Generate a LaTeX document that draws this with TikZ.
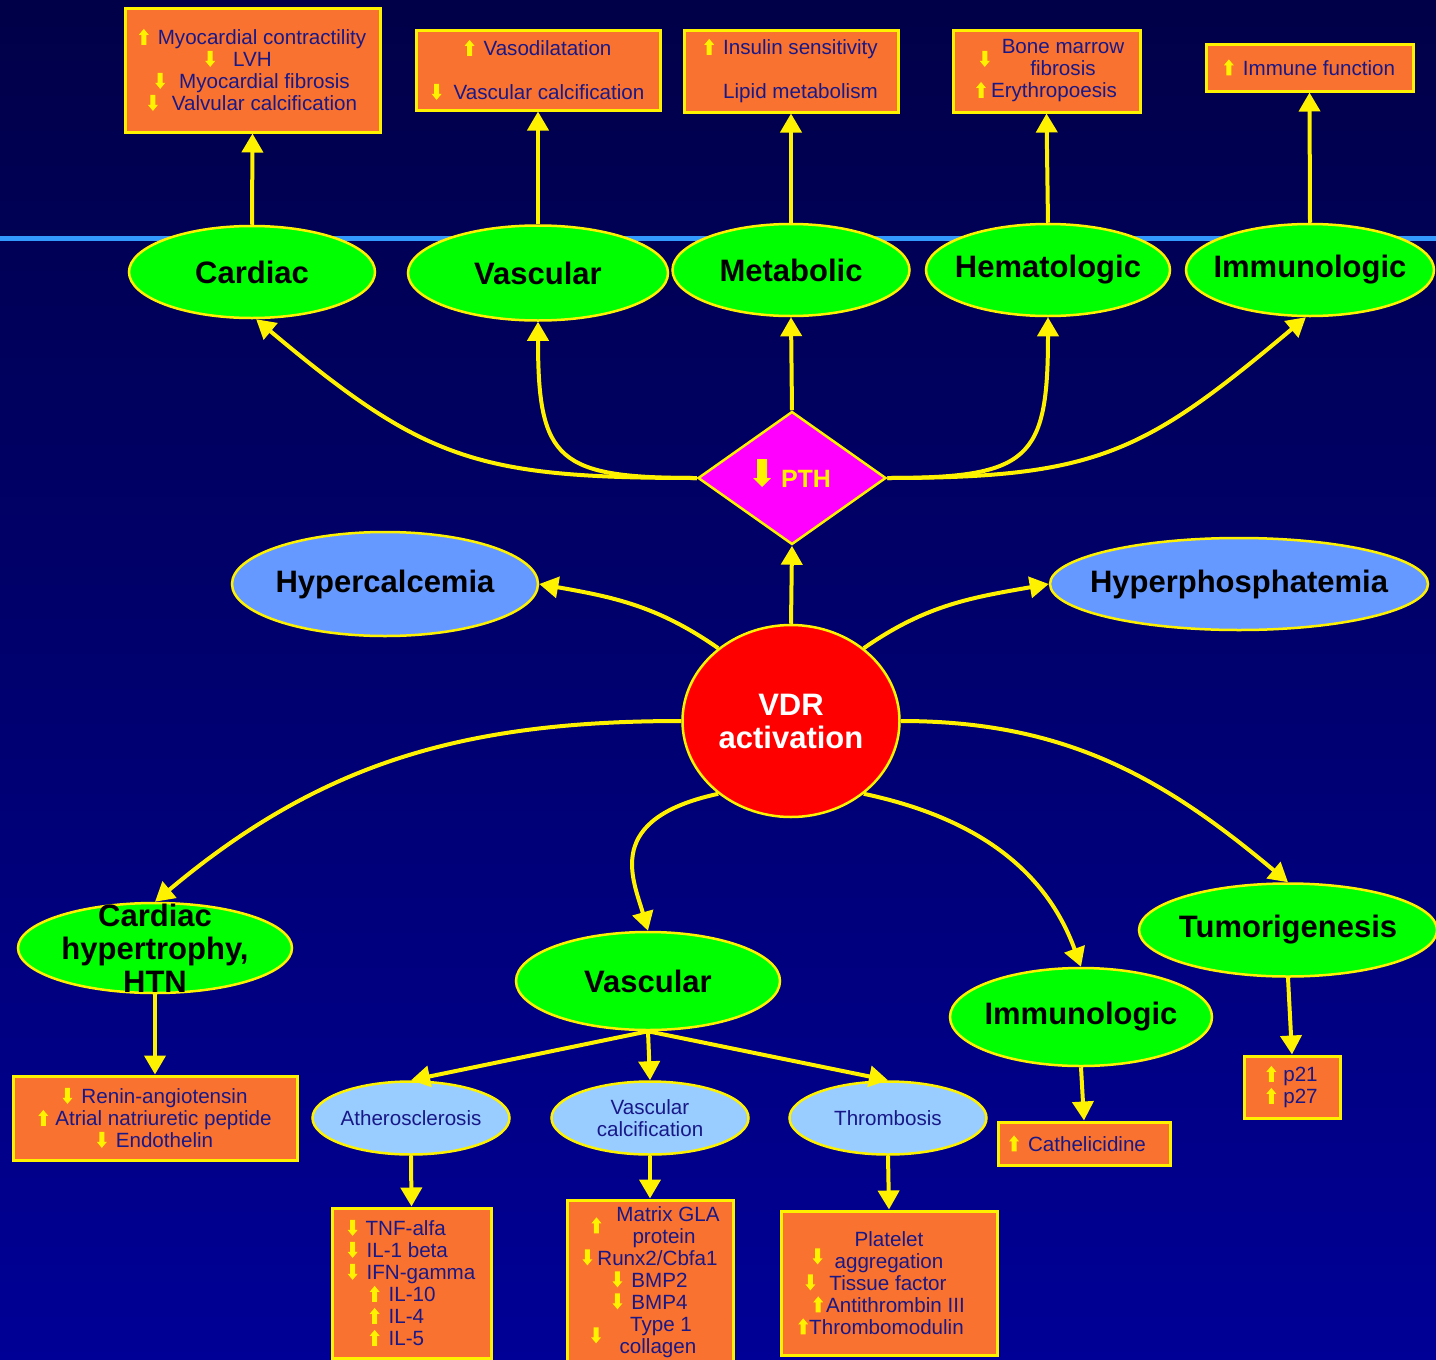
\documentclass[tikz,border=0pt]{standalone}
\usepackage{fontspec}
\setmainfont{Liberation Sans}
\usetikzlibrary{arrows.meta,shapes.geometric,positioning}

\definecolor{bgtop}{RGB}{0,0,72}
\definecolor{bgbot}{RGB}{0,0,150}
\definecolor{leaf}{RGB}{0,255,0}
\definecolor{effect}{RGB}{249,114,48}
\definecolor{sky}{RGB}{153,204,255}
\definecolor{ionblue}{RGB}{102,153,255}
\definecolor{ink}{RGB}{24,24,136}
\definecolor{rule}{RGB}{51,153,255}
\definecolor{pthpink}{RGB}{255,0,255}

\newcommand{\fxfont}{\fontsize{20.6}{22}\selectfont}
\newcommand{\tagfont}{\fontsize{31}{33}\selectfont\bfseries}
\newcommand{\pthfont}{\fontsize{25}{28}\selectfont\bfseries}
% small yellow block arrows used inside the texts
\newcommand{\upar}{\tikz[x=1pt,y=1pt,baseline=0pt]\fill[yellow] (-2.5,0)--(2.5,0)--(2.5,10)--(5,10)--(0,16)--(-5,10)--(-2.5,10)--cycle;}
\newcommand{\dnar}{\tikz[x=1pt,y=1pt,baseline=0pt]\fill[yellow] (-2.5,16)--(2.5,16)--(2.5,6)--(5,6)--(0,0)--(-5,6)--(-2.5,6)--cycle;}
\newcommand{\bigdn}{\tikz[x=1pt,y=1pt,baseline=-8pt]\fill[yellow] (-5,20)--(5,20)--(5,1)--(9,1)--(0,-8)--(-9,1)--(-5,1)--cycle;}
% arrow hung to the left of a line, lowered by #1
\newcommand{\sidear}[3]{\llap{\smash{\raisebox{#1}{#2}}\hspace{#3}}}

\tikzset{
  tagtext/.style={font=\tagfont, text=black, align=center},
  tag/.style={label={[tagtext]center:#1}},
  organ/.style={ellipse, draw=yellow, line width=2.5pt, fill=leaf, inner sep=0pt},
  salt/.style={ellipse, draw=yellow, line width=2.5pt, fill=ionblue, inner sep=0pt},
  lesion/.style={ellipse, draw=yellow, line width=2.5pt, fill=sky, inner sep=0pt,
    minimum width=197pt, minimum height=73pt,
    label={[font=\fxfont, text=ink, align=center]center:#1}},
  fxbox/.style={rectangle, draw=yellow, line width=3pt, fill=effect, text=ink,
    font=\fxfont, align=center, inner sep=0pt},
  link/.style={draw=yellow, line width=4pt, -{Triangle[length=19pt,width=21pt]}},
}

\begin{document}
\begin{tikzpicture}[x=1pt, y=-1pt]
\useasboundingbox (0,0) rectangle (1436,1360);
\fill[top color=bgtop, bottom color=bgbot] (0,0) rectangle (1436,1360);
\draw[rule, line width=5pt] (0,238) -- (1436,238);

% effects of lower PTH (top row)
\node[fxbox, minimum width=255pt, minimum height=124pt] (cbox) at (252.5,70)
  {\upar\hspace{9pt}Myocardial contractility\\
   \dnar\hspace{18pt}LVH\hspace{28pt}\mbox{}\\
   \dnar\hspace{14pt}Myocardial fibrosis\\
   \dnar\hspace{14pt}Valvular calcification};
\node[fxbox, minimum width=244pt, minimum height=80pt] (vbox) at (538,70)
  {\upar\hspace{9pt}Vasodilatation\\[22pt]
   \dnar\hspace{12pt}Vascular calcification};
\node[fxbox, align=left, minimum width=214pt, minimum height=82pt] (mbox) at (791,71)
  {\upar\hspace{9pt}Insulin sensitivity\\[22pt]
   \hspace*{19pt}Lipid metabolism};
\node[fxbox, minimum width=187pt, minimum height=82pt] (hbox) at (1046.5,71)
  {\hspace*{33pt}\sidear{-13pt}{\dnar}{12pt}Bone marrow\\
   \hspace*{33pt}fibrosis\\
   \upar\hspace{5pt}Erythropoesis};
\node[fxbox, minimum width=207pt, minimum height=47pt] (ibox) at (1309.5,67.5)
  {\upar\hspace{9pt}Immune function};

\node[organ, minimum width=246pt, minimum height=92pt, tag=Cardiac] (cardiac) at (252,272) {};
\node[organ, minimum width=260pt, minimum height=95pt, tag=Vascular] (vascular) at (538,273) {};
\node[organ, minimum width=237pt, minimum height=92pt, tag=Metabolic] (metabolic) at (791,270) {};
\node[organ, minimum width=244pt, minimum height=92pt, tag=Hematologic] (hema) at (1048,270) {};
\node[organ, minimum width=248pt, minimum height=92pt, tag=Immunologic] (immune) at (1310,270) {};

\node[diamond, draw=yellow, line width=2.5pt, fill=pthpink, inner sep=0pt,
  minimum width=188pt, minimum height=133pt,
  label={[font=\pthfont, text=yellow, yshift=5pt]center:\bigdn\hspace{10pt}PTH}] (pth) at (792,478) {};

\node[salt, minimum width=306pt, minimum height=104pt, tag=Hypercalcemia] (hyperc) at (385,584) {};
\node[salt, minimum width=378pt, minimum height=92pt, tag=Hyperphosphatemia] (hyperp) at (1239,584) {};

\node[ellipse, draw=yellow, line width=2.5pt, fill=red, inner sep=0pt,
  minimum width=217pt, minimum height=192pt,
  label={[tagtext, text=white]center:VDR\\activation}] (vdr) at (791,721) {};

% direct effects (bottom row)
\node[organ, minimum width=274pt, minimum height=90pt, tag={Cardiac\\hypertrophy,\\HTN}] (cht) at (155,948) {};
\node[organ, minimum width=264pt, minimum height=98pt, tag=Vascular] (vasc2) at (648,981) {};
\node[organ, minimum width=262pt, minimum height=98pt, tag=Immunologic] (immune2) at (1081,1017) {};
\node[organ, minimum width=298pt, minimum height=93pt, tag=Tumorigenesis] (tumor) at (1288,930) {};

\node[fxbox, minimum width=284pt, minimum height=84pt] (rbox) at (155,1118)
  {\dnar\hspace{9pt}Renin-angiotensin\\
   \upar\hspace{7pt}Atrial natriuretic peptide\\
   \dnar\hspace{9pt}Endothelin};

\node[lesion=Atherosclerosis] (ather) at (411,1118) {};
\node[lesion={Vascular\\calcification}] (vcal) at (650,1118) {};
\node[lesion=Thrombosis] (thromb) at (888,1118) {};

\node[fxbox, align=left, minimum width=159pt, minimum height=150pt] (tbox) at (411.5,1283)
  {\dnar\hspace{8pt}TNF-alfa\\
   \dnar\hspace{9pt}IL-1 beta\\
   \dnar\hspace{9pt}IFN-gamma\\
   \hspace*{22pt}\upar\hspace{9pt}IL-10\\
   \hspace*{22pt}\upar\hspace{9pt}IL-4\\
   \hspace*{22pt}\upar\hspace{9pt}IL-5};
\node[fxbox, minimum width=166pt, minimum height=164pt] (xbox) at (650,1282)
  {\hspace*{36pt}\sidear{-12pt}{\upar}{15pt}Matrix GLA\\
   \hspace*{28pt}protein\\
   \dnar\hspace{5pt}Runx2/Cbfa1\\
   \dnar\hspace{9pt}BMP2\\
   \dnar\hspace{9pt}BMP4\\
   \hspace*{22pt}\sidear{-12pt}{\dnar}{29pt}Type 1\\
   \hspace*{16pt}collagen};
\node[fxbox, minimum width=216pt, minimum height=144pt] (pbox) at (889,1283)
  {Platelet\\
   \sidear{4pt}{\dnar}{12pt}aggregation\\
   \dnar\hspace{14pt}Tissue factor\hspace{26pt}\mbox{}\\
   \upar\hspace{3pt}Antithrombin III\\
   \upar\hspace{1pt}Thrombomodulin\hspace{16pt}\mbox{}};
\node[fxbox, minimum width=172pt, minimum height=43pt] (kbox) at (1084,1143.5)
  {\upar\hspace{9pt}Cathelicidine\hspace{13pt}\mbox{}};
\node[fxbox, align=left, minimum width=96pt, minimum height=62pt] (gbox) at (1292,1087)
  {\upar\hspace{7pt}p21\\
   \upar\hspace{7pt}p27};

% connectors
\draw[link] (cardiac.north) -- (cbox.south);
\draw[link] (vascular.north) -- (vbox.south);
\draw[link] (metabolic.north) -- (mbox.south);
\draw[link] (hema.north) -- (hbox.south);
\draw[link] (immune.north) -- (ibox.south);

\draw[link] (pth.north) -- (metabolic.south);
\draw[link] (pth.west) to[out=180, in=-40, looseness=1.2] (cardiac.-85);
\draw[link] (pth.west) to[out=180, in=-90, looseness=1.6] (vascular.south);
\draw[link] (pth.east) to[out=0, in=-90, looseness=1.6] (hema.south);
\draw[link] (pth.east) to[out=0, in=-140, looseness=1.2] (immune.-95);

\draw[link] (vdr.north) -- (pth.south);
\draw[link] (vdr.135) to[out=145, in=-10] (hyperc.east);
\draw[link] (vdr.45) to[out=35, in=190] (hyperp.west);
\draw[link] (vdr.west) to[out=180, in=40] (cht.north);
\draw[link] (vdr.-135) .. controls +(-115,25) and +(-15,-52) .. (vasc2.north);
\draw[link] (vdr.-45) to[out=-12, in=110] (immune2.north);
\draw[link] (vdr.east) to[out=0, in=140] (tumor.north);

\draw[link] (cht.south) -- (rbox.north);
\draw[link] (vasc2.south) -- (ather.north);
\draw[link] (vasc2.south) -- (vcal.north);
\draw[link] (vasc2.south) -- (thromb.north);
\draw[link] (ather.south) -- (tbox.north);
\draw[link] (vcal.south) -- (xbox.north);
\draw[link] (thromb.south) -- (pbox.north);
\draw[link] (immune2.south) -- (kbox.north);
\draw[link] (tumor.south) -- (gbox.north);
\end{tikzpicture}
\end{document}
